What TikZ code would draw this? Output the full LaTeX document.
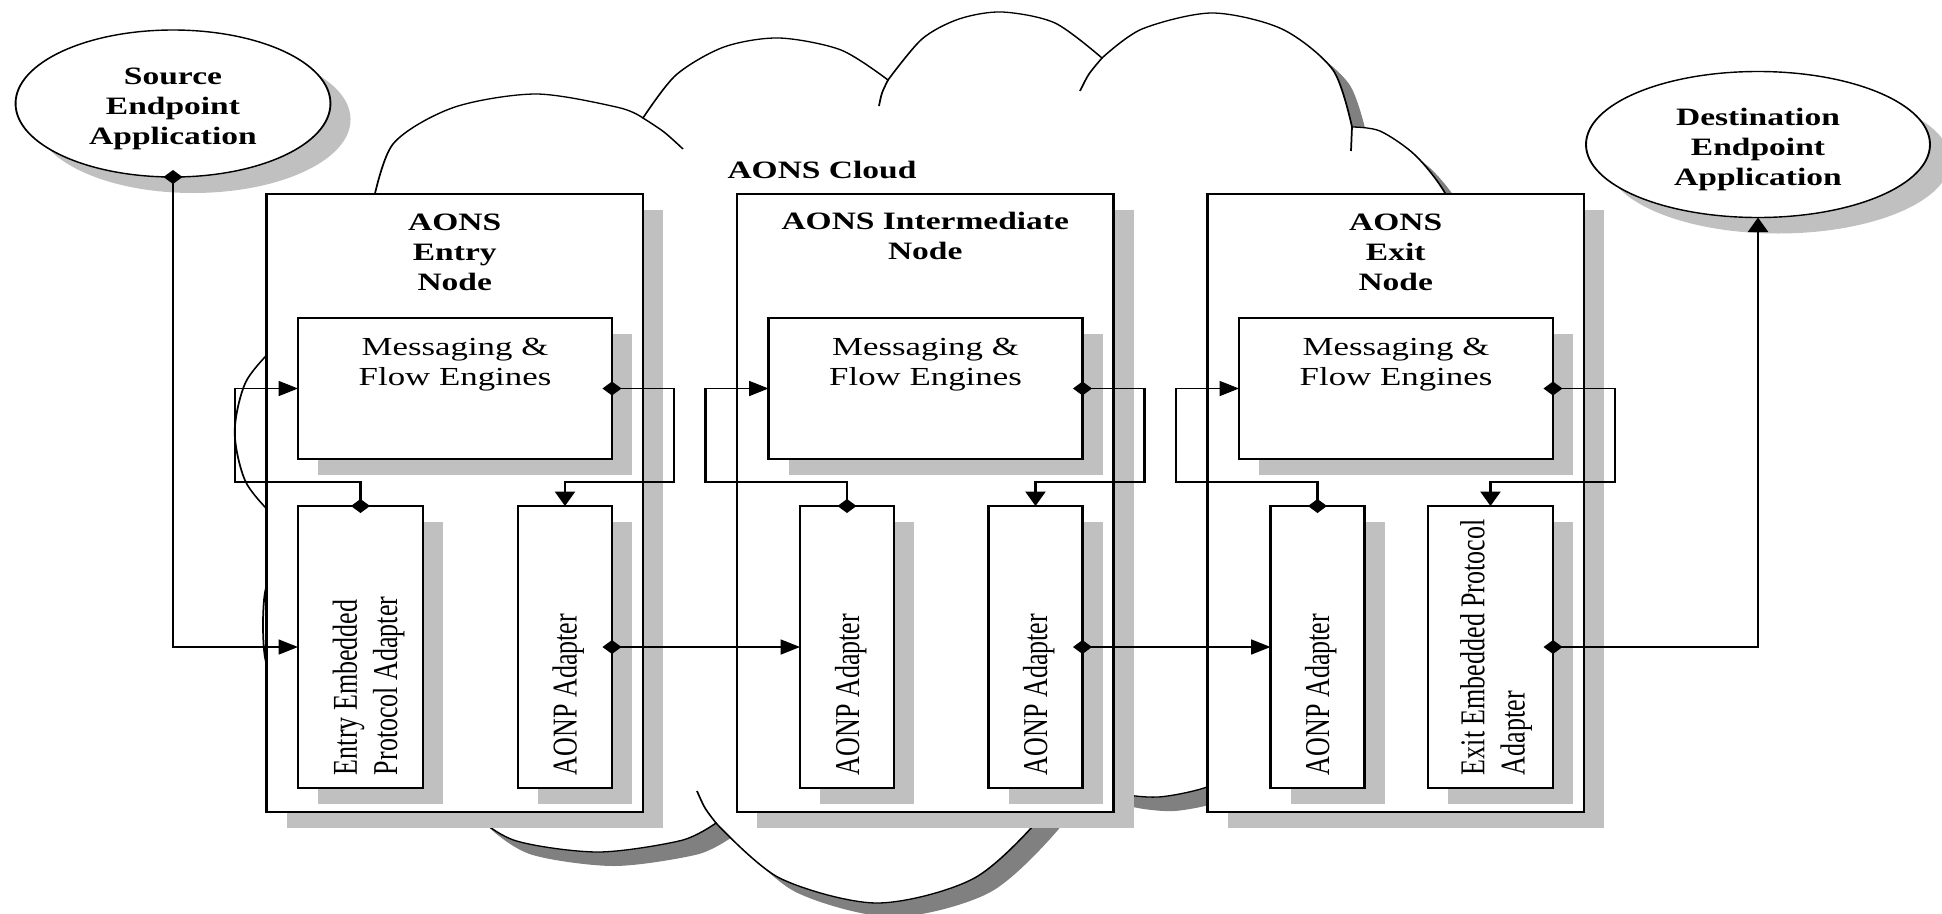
\documentclass[tikz,border=0pt]{standalone}
\usepackage{fontspec}
\usepackage{graphicx}
\setmainfont{Liberation Serif}
\usetikzlibrary{arrows.meta,calc,shadows,shapes.geometric}
\definecolor{boxsh}{RGB}{192,192,192}
\definecolor{cloudsh}{RGB}{128,128,128}
\begin{document}
\begin{tikzpicture}[x=1pt,y=-1pt,every node/.style={inner sep=0pt,outer sep=0pt}]
\useasboundingbox (0,0) rectangle (1942,913);
\begin{scope}[transform canvas={xscale=1.34}, x=0.746269pt,
  boxshadow/.style={drop shadow={shadow xshift=15pt,shadow yshift=-16pt,fill=boxsh,opacity=1}},
  cbox/.style={rectangle,draw=black,fill=white,line width=1.7pt,boxshadow},
  elli/.style={ellipse,draw=black,fill=white,line width=1.4pt,boxshadow},
  cloudline/.style={draw=black,line width=1.3pt},
  btxt/.style={font=\fontsize{25}{30}\selectfont\bfseries,align=center},
  rtxt/.style={font=\fontsize{26}{30}\selectfont,align=center},
  conn/.style={draw=black,line width=1.6pt},
  arr/.style={-{Triangle[length=14.5pt,width=15pt]}},
  dmd/.pic={\fill[black] (-9.5,0) -- (0,-7) -- (9.5,0) -- (0,7) -- cycle;}
  ]
% ---------------- cloud ----------------
\filldraw[cloudline,fill=white,drop shadow={shadow xshift=12pt,shadow yshift=-14pt,fill=cloudsh,opacity=1}]
  plot[smooth] coordinates {(372,207) (393,144) (453.5,107.5) (536,94) (618.5,107.5) (643,118)}
  -- plot[smooth] coordinates {(643,118) (676,75) (724,47) (779,38) (841,50) (888,80)}
  -- plot[smooth] coordinates {(888,80) (922,39) (959,19) (1002,12) (1055,23) (1102,58)}
  -- plot[smooth] coordinates {(1102,58) (1142,29) (1212,13) (1282,29) (1333,70) (1352,127)}
  -- plot[smooth] coordinates {(1352,127) (1380,131) (1415,155) (1445,193) (1470,250)}
  -- (1520,420) -- (1500,640)
  -- plot[smooth] coordinates {(1260,720) (1230,770) (1207,787) (1158,797) (1113,792) (1080,775)}
  -- plot[smooth] coordinates {(1065,767) (1046,811) (974.5,878) (877,903) (779.5,878) (716,823)}
  -- plot[smooth] coordinates {(716,823) (681,840.5) (598,852) (515,840.5) (471,811.5) (471,794.5)}
  -- (420,740)
  -- plot[smooth] coordinates {(280,680) (266,662) (263,625) (266,588) (280,572)}
  -- plot[smooth] coordinates {(289.3,526) (276.2,518.6) (245.8,482) (234.7,432) (245.8,382) (276.2,345.4) (289.3,338)}
  -- cycle;
\draw[cloudline] plot[smooth] coordinates {(643,118) (664,132) (683,149)};
\draw[cloudline] plot[smooth] coordinates {(879,106) (882,93) (888,80)};
\draw[cloudline] plot[smooth] coordinates {(1080,91) (1089,74) (1102,58)};
\draw[cloudline] (1352,127) -- (1351,151);
\draw[cloudline] plot[smooth] coordinates {(716,823) (705,808) (697,791)};
\node[btxt] (cloudt) at (822,170) {AONS Cloud};
% ---------------- endpoints ----------------
\node[elli,minimum width=235pt,minimum height=147pt] (src) at (173,103.5) {};
\node[btxt] (srct) at (173,108.6) {\begin{tabular}{@{}c@{}}Source\\Endpoint\\Application\end{tabular}};
\node[elli,minimum width=256.7pt,minimum height=146pt] (dst) at (1758,144.5) {};
\node[btxt] (dstt) at (1758,149) {\begin{tabular}{@{}c@{}}Destination\\Endpoint\\Application\end{tabular}};
% ---------------- AONS nodes ----------------
\node[cbox,minimum width=281pt,minimum height=618pt] (entry) at (454.75,503) {};
\node[cbox,minimum width=281pt,minimum height=618pt] (inter) at (925.25,503) {};
\node[cbox,minimum width=281pt,minimum height=618pt] (exit) at (1395.75,503) {};
\node[btxt] (t1) at (454.75,254.6) {\begin{tabular}{@{}c@{}}AONS\\Entry\\Node\end{tabular}};
\node[btxt] (t2) at (925.25,238.3) {\begin{tabular}{@{}c@{}}AONS Intermediate\\Node\end{tabular}};
\node[btxt] (t3) at (1395.75,254.6) {\begin{tabular}{@{}c@{}}AONS\\Exit\\Node\end{tabular}};
% messaging engines
\foreach \n/\x in {m1/455,m2/925.5,m3/1396}{
  \node[cbox,minimum width=234.3pt,minimum height=141pt] (\n) at (\x,388.5) {};
  \node[rtxt] (\n t) at (\x,364.6) {\begin{tabular}{@{}c@{}}Messaging \&\\Flow Engines\end{tabular}};
}
% adapters
\node[cbox,minimum width=93.3pt,minimum height=282pt] (a1) at (360.5,647) {};
\node[cbox,minimum width=70.1pt,minimum height=282pt] (b1) at (565,647) {};
\node[cbox,minimum width=70.1pt,minimum height=282pt] (a2) at (847,647) {};
\node[cbox,minimum width=70.1pt,minimum height=282pt] (b2) at (1035.5,647) {};
\node[cbox,minimum width=70.1pt,minimum height=282pt] (a3) at (1317.5,647) {};
\node[cbox,minimum width=93.3pt,minimum height=282pt] (b3) at (1490.5,647) {};
\node[rtxt,anchor=south] (a1t) at (369,775) {\rotatebox{90}{\begin{tabular}{@{}l@{}}Entry Embedded\\Protocol Adapter\end{tabular}}};
\node[rtxt,anchor=south] (b1t) at (568.5,775) {\rotatebox{90}{\begin{tabular}{@{}l@{}}AONP Adapter\end{tabular}}};
\node[rtxt,anchor=south] (a2t) at (851,775) {\rotatebox{90}{\begin{tabular}{@{}l@{}}AONP Adapter\end{tabular}}};
\node[rtxt,anchor=south] (b2t) at (1039,775) {\rotatebox{90}{\begin{tabular}{@{}l@{}}AONP Adapter\end{tabular}}};
\node[rtxt,anchor=south] (a3t) at (1321,775) {\rotatebox{90}{\begin{tabular}{@{}l@{}}AONP Adapter\end{tabular}}};
\node[rtxt,anchor=south] (b3t) at (1496.5,775) {\rotatebox{90}{\begin{tabular}{@{}l@{}}Exit Embedded Protocol\\Adapter\end{tabular}}};
% ---------------- connectors ----------------
\draw[conn,arr] (src.south) |- (a1.west);
\draw[conn,arr] (a1.north) -- ++(0,-24) -| ($(m1.west)+(-63,0)$) -- (m1.west);
\draw[conn,arr] (m1.east) -- ++(62,0) |- ($(b1.north)+(0,-24)$) -- (b1.north);
\draw[conn,arr] (b1.east) -- (a2.west);
\draw[conn,arr] (a2.north) -- ++(0,-24) -| ($(m2.west)+(-63,0)$) -- (m2.west);
\draw[conn,arr] (m2.east) -- ++(62,0) |- ($(b2.north)+(0,-24)$) -- (b2.north);
\draw[conn,arr] (b2.east) -- (a3.west);
\draw[conn,arr] (a3.north) -- ++(0,-24) -| ($(m3.west)+(-63,0)$) -- (m3.west);
\draw[conn,arr] (m3.east) -- ++(62,0) |- ($(b3.north)+(0,-24)$) -- (b3.north);
\draw[conn,arr] (b3.east) -| (dst.south);
\foreach \p in {src.south,a1.north,m1.east,b1.east,a2.north,m2.east,b2.east,a3.north,m3.east,b3.east}{
  \pic at (\p) {dmd};
}
\end{scope}
\end{tikzpicture}
\end{document}
